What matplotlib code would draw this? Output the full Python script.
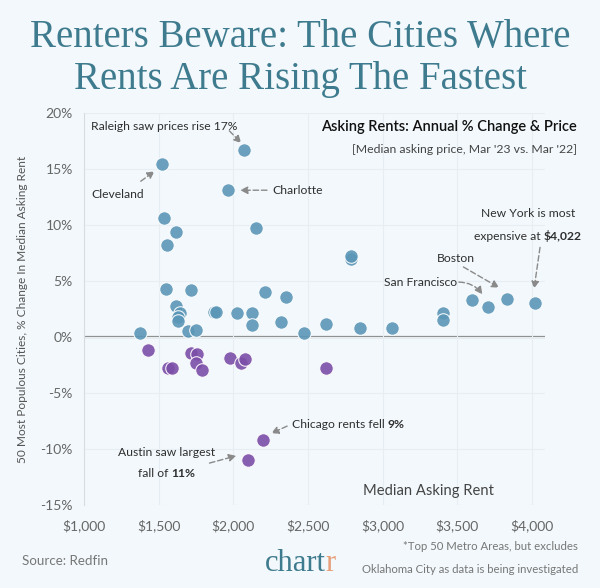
import matplotlib
matplotlib.use("Agg")
import matplotlib.pyplot as plt
from matplotlib.transforms import offset_copy
from matplotlib.ticker import FuncFormatter

# -------------------------------
# Data
# -------------------------------
rise_rent = [1525, 2073, 1964, 1536, 1615, 1555, 2153, 1547, 1715, 2211,
             1613, 1640, 1629, 1631, 1696, 1747, 1871, 1887, 2024, 2122,
             2124, 1373, 2789, 2789, 2353, 2322, 2473, 2618, 2851, 3062,
             3402, 3402, 3598, 3704, 3829, 4022]
rise_change = [15.4, 16.7, 13.1, 10.6, 9.4, 8.2, 9.7, 4.3, 4.2, 4.0,
               2.8, 2.1, 1.8, 1.4, 0.56, 0.6, 2.2, 2.2, 2.1, 2.1,
               1.07, 0.36, 7.0, 7.2, 3.6, 1.37, 0.4, 1.16, 0.77, 0.77,
               2.14, 1.5, 3.3, 2.7, 3.4, 3.0]

fall_rent = [1431, 1562, 1589, 1715, 1755, 1753, 1789, 1978, 2051, 2080,
             2618, 2198, 2098]
fall_change = [-1.2, -2.8, -2.8, -1.4, -1.5, -2.35, -2.9, -1.9, -2.3, -2.0,
               -2.8, -9.2, -11.0]

x_ticks = [1000, 1500, 2000, 2500, 3000, 3500, 4000]
y_ticks = [-15, -10, -5, 0, 5, 10, 15, 20]

# -------------------------------
# Style
# -------------------------------
BG = "#f2f8fb"
BLUE = "#5b97b8"
PURPLE = "#7b4ea8"
TEAL = "#3f7b8e"
ARROW = "#8a8a8a"
FONT = "Lato"

plt.rcParams["font.family"] = [FONT, "DejaVu Sans"]

fig = plt.figure(figsize=(6, 5.88), dpi=100, facecolor=BG)
ax = fig.add_axes([0.14, 0.141, 0.768, 0.667], facecolor=BG)


def rich_text(x, y, parts, transform, ha="left", **kw):
    # draw text pieces of mixed weight on one baseline
    renderer = fig.canvas.get_renderer()
    texts, widths = [], []
    for s, weight in parts:
        t = fig.text(x, y, s, transform=transform, ha="left",
                     fontweight=weight, **kw)
        texts.append(t)
        widths.append(t.get_window_extent(renderer).width)
    total = sum(widths)
    start = {"left": 0, "center": -total / 2, "right": -total}[ha]
    for t, w in zip(texts, widths):
        t.set_transform(offset_copy(transform, fig=fig, x=start, units="dots"))
        start += w
    return texts


# -------------------------------
# Scatter
# -------------------------------
ax.axhline(0, color="#8c8c8c", lw=1.6, zorder=1)
ax.scatter(rise_rent, rise_change, s=95, color=BLUE, alpha=0.9,
           edgecolor="white", linewidth=0.8, zorder=3)
ax.scatter(fall_rent, fall_change, s=95, color=PURPLE, alpha=0.9,
           edgecolor="white", linewidth=0.8, zorder=3)

ax.set_xlim(1000, 4085)
ax.set_ylim(-15, 20)
ax.set_xticks(x_ticks)
ax.set_yticks(y_ticks)
ax.xaxis.set_major_formatter(FuncFormatter(lambda v, p: "${:,.0f}".format(v)))
ax.yaxis.set_major_formatter(FuncFormatter(lambda v, p: "{:.0f}%".format(v)))
ax.tick_params(length=0, labelsize=10, labelcolor="#666666", pad=10)
ax.tick_params(axis="y", pad=8)
ax.grid(True, color="#e6eef3", lw=0.8, zorder=0)
for side in ["top", "right", "bottom"]:
    ax.spines[side].set_visible(False)
ax.spines["left"].set_color("#d5dde2")
ax.set_ylabel("50 Most Populous Cities, % Change In Median Asking Rent",
              fontsize=8.6, color="#555555", labelpad=9)

# -------------------------------
# Annotations
# -------------------------------
arrow = dict(arrowstyle="-|>", linestyle=(0, (4, 2)), color=ARROW,
             lw=1, mutation_scale=11, shrinkA=0, shrinkB=0)
tc = "#2f2f2f"
fs = 8.7

ax.text(1047, 18.75, "Raleigh saw prices rise 17%", fontsize=fs, color=tc,
        va="center")
ax.annotate("", xy=(2053, 17.3), xytext=(1973, 18.4), arrowprops=arrow)

ax.text(1047, 12.7, "Cleveland", fontsize=fs, color=tc, va="center")
ax.annotate("", xy=(1473, 14.8), xytext=(1380, 13.9), arrowprops=arrow)

ax.text(2260, 13.1, "Charlotte", fontsize=fs, color=tc, va="center")
ax.annotate("", xy=(2045, 13.1), xytext=(2225, 13.1), arrowprops=arrow)

ax.text(3973, 11.0, "New York is most", fontsize=fs, color=tc,
        ha="center", va="center")
rich_text(3973, 9.0, [("expensive at ", "normal"), ("$4,022", "bold")],
          ax.transData, ha="center", fontsize=fs, color=tc, va="center")
ax.annotate("", xy=(4013, 4.3), xytext=(4053, 8.0), arrowprops=arrow)

ax.text(3487, 7.0, "Boston", fontsize=fs, color=tc, ha="center", va="center")
ax.annotate("", xy=(3780, 4.4), xytext=(3540, 6.25), arrowprops=arrow)

ax.text(3253, 4.9, "San Francisco", fontsize=fs, color=tc,
        ha="center", va="center")
ax.annotate("", xy=(3667, 3.8), xytext=(3510, 4.9),
            arrowprops=dict(arrow, connectionstyle="arc3,rad=-0.25"))

rich_text(2393, -7.8, [("Chicago rents fell ", "normal"), ("9%", "bold")],
          ax.transData, fontsize=fs, color=tc, va="center")
ax.annotate("", xy=(2253, -8.6), xytext=(2360, -7.95), arrowprops=arrow)

ax.text(1553, -10.3, "Austin saw largest", fontsize=fs, color=tc,
        ha="center", va="center")
rich_text(1553, -12.2, [("fall of ", "normal"), ("11%", "bold")],
          ax.transData, ha="center", fontsize=fs, color=tc, va="center")
ax.annotate("", xy=(2020, -10.6), xytext=(1840, -11.25), arrowprops=arrow)

ax.text(3307, -13.7, "Median Asking Rent", fontsize=10.6, color="#444444",
        ha="center", va="center")

# -------------------------------
# Titles and footer
# -------------------------------
fig.text(0.5, 0.937, "Renters Beware: The Cities Where", fontsize=28,
         color=TEAL, ha="center", va="center", family="Liberation Serif")
fig.text(0.5, 0.864, "Rents Are Rising The Fastest", fontsize=28,
         color=TEAL, ha="center", va="center", family="Liberation Serif")

fig.text(0.962, 0.784, "Asking Rents: Annual % Change & Price", fontsize=10.5,
         color="#111111", ha="right", va="center", fontweight="semibold")
fig.text(0.962, 0.745, "[Median asking price, Mar '23 vs. Mar '22]",
         fontsize=8.8, color="#444444", ha="right", va="center")

fig.text(0.037, 0.046, "Source: Redfin", fontsize=9.6, color="#777777",
         va="center")
rich_text(0.5, 0.042, [("chart", "normal"), ("r", "normal")], fig.transFigure,
          ha="center", fontsize=22, va="center", family="Liberation Serif",
          color=TEAL)
fig.texts[-1].set_color("#e8a07a")
fig.text(0.963, 0.07, "*Top 50 Metro Areas, but excludes", fontsize=8.2,
         color="#777777", ha="right", va="center")
fig.text(0.963, 0.032, "Oklahoma City as data is being investigated",
         fontsize=8.2, color="#777777", ha="right", va="center")

plt.savefig("out.png", dpi=100, facecolor=BG)
